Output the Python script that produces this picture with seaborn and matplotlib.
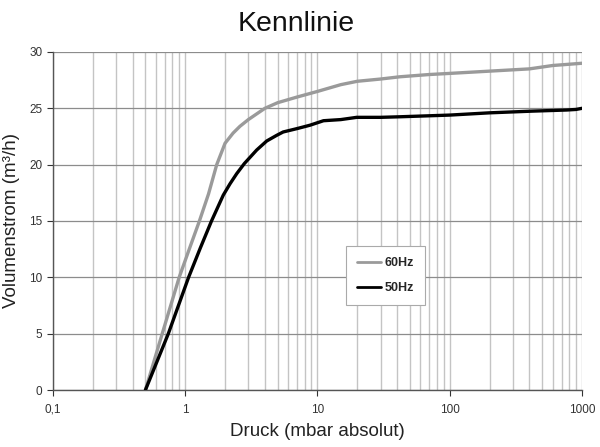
import matplotlib
matplotlib.use("Agg")
import matplotlib.pyplot as plt
import numpy as np
import pandas as pd
import seaborn as sns
from matplotlib.ticker import FixedLocator, FixedFormatter, NullFormatter, LogLocator

# 60 Hz curve
p60 = [0.5, 0.67, 0.9, 1.08, 1.28, 1.5, 1.73, 2.0, 2.3, 2.59, 3.0, 4.0, 5.0,
       7.0, 10, 15, 20, 30, 42, 70, 100, 200, 400, 600, 1000]
q60 = [0, 5, 10, 12.6, 15, 17.4, 20, 21.9, 22.8, 23.4, 24.0, 25.0, 25.5,
       26.0, 26.5, 27.1, 27.4, 27.6, 27.8, 28.0, 28.1, 28.3, 28.5, 28.8, 29.0]

# 50 Hz curve
p50 = [0.5, 0.745, 1.06, 1.3, 1.58, 1.94, 2.18, 2.45, 2.8, 3.47, 4.13, 4.91,
       5.5, 7.0, 8.77, 11.1, 15, 19.8, 30, 42, 100, 200, 420, 766, 900, 1000]
q50 = [0, 5, 10, 12.6, 15, 17.3, 18.3, 19.2, 20.1, 21.3, 22.1, 22.6,
       22.9, 23.2, 23.5, 23.9, 24.0, 24.2, 24.2, 24.25, 24.4, 24.6, 24.75, 24.85, 24.9, 25.0]

x_ticks = [0.1, 1, 10, 100, 1000]
x_ticklabels = ["0,1", "1", "10", "100", "1000"]
y_ticks = [0, 5, 10, 15, 20, 25, 30]

df = pd.concat([
    pd.DataFrame({"Druck": p60, "Volumenstrom": q60, "Serie": "60Hz"}),
    pd.DataFrame({"Druck": p50, "Volumenstrom": q50, "Serie": "50Hz"}),
])

sns.set_style("white")
plt.rcParams["font.family"] = ["Liberation Sans", "DejaVu Sans"]

fig = plt.figure(figsize=(6.0, 4.47), dpi=100)
ax = fig.add_axes([0.0883, 0.1275, 0.8817, 0.7562])

ax.set_xscale("log")
ax.set_xlim(0.1, 1000)
ax.set_ylim(0, 30)

# grid
ax.xaxis.set_major_locator(FixedLocator(x_ticks))
ax.xaxis.set_major_formatter(FixedFormatter(x_ticklabels))
ax.xaxis.set_minor_locator(LogLocator(base=10, subs=np.arange(2, 10)))
ax.xaxis.set_minor_formatter(NullFormatter())
ax.set_yticks(y_ticks)
ax.grid(True, axis="x", which="both", color="#c4c4c4", linewidth=1.0)
ax.grid(True, axis="y", which="major", color="#8c8c8c", linewidth=0.9)
ax.set_axisbelow(True)

sns.lineplot(data=df, x="Druck", y="Volumenstrom", hue="Serie",
             palette={"60Hz": "#9a9a9a", "50Hz": "#000000"},
             linewidth=2.4, sort=False, estimator=None, ax=ax, zorder=3)

for side in ["top", "right"]:
    ax.spines[side].set_visible(False)
for side in ["left", "bottom"]:
    ax.spines[side].set_color("#555555")
    ax.spines[side].set_linewidth(1.0)

ax.tick_params(axis="both", which="major", labelsize=8.5, colors="#333333",
               length=4, width=0.8, direction="out", left=True, bottom=True)
ax.tick_params(axis="x", which="minor", length=0)
ax.tick_params(axis="x", pad=6)

ax.set_xlabel("Druck (mbar absolut)", fontsize=13.5, color="#222222", labelpad=5)
ax.set_ylabel("Volumenstrom (m³/h)", fontsize=13.5, color="#222222", labelpad=7)
fig.suptitle("Kennlinie", fontsize=20.5, color="#111111", y=0.976, x=0.493)

leg = ax.legend(loc="lower left", bbox_to_anchor=(0.554, 0.251), borderaxespad=0,
                frameon=True, fancybox=False, edgecolor="#aaaaaa", framealpha=1,
                prop={"weight": "bold", "size": 9}, handlelength=1.9,
                handletextpad=0.3, labelspacing=1.0, borderpad=0.9)
leg.get_frame().set_linewidth(0.8)
for line in leg.get_lines():
    line.set_linewidth(2.0)

fig.savefig("out.png", dpi=100)
